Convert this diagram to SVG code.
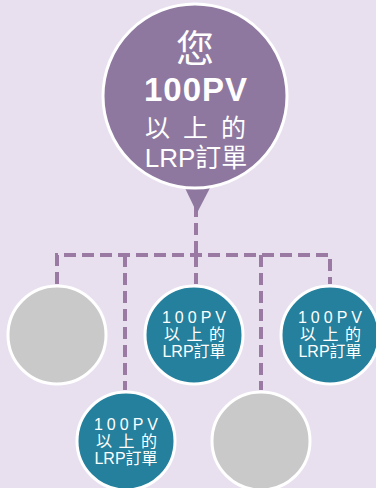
<svg xmlns="http://www.w3.org/2000/svg" width="376" height="488" viewBox="0 0 376 488">
<style>
.bg{fill:#e8e0ef}
.main{fill:#8e789f;stroke:#ffffff;stroke-width:3}
.teal{fill:#24809c;stroke:#ffffff;stroke-width:3}
.gray{fill:#c9c9c9;stroke:#ffffff;stroke-width:3}
.conn{fill:none;stroke:#9a7aa2;stroke-width:4;stroke-dasharray:12 6}
text{fill:#ffffff;font-family:"Liberation Sans","Noto Sans CJK TC",sans-serif;text-anchor:middle}
.big1{font-size:38px}
.big2{font-size:33px;font-weight:bold;letter-spacing:1px}
.big3{font-size:25px;letter-spacing:3px}
.big4{font-size:26px}
.s1{font-size:16px;letter-spacing:4px}
.s2{font-size:16px;letter-spacing:1px}
.s3{font-size:16px}
</style>
<rect class="bg" x="0" y="0" width="376" height="488"/>
<g id="connectors">
<path class="conn" d="M196 205 V255"/>
<path class="conn" d="M57 284 V255 H330 V284"/>
<path class="conn" d="M125 255 V390"/>
<path class="conn" d="M196 255 V284"/>
<path class="conn" d="M261 255 V390"/>
</g>
<g id="main">
<path d="M184 186 L197 213 L211 186 Z" fill="#8e789f"/>
<circle class="main" cx="195" cy="96" r="92"/>
<text class="big1" x="195" y="62">您</text>
<text class="big2" x="196" y="101">100PV</text>
<text class="big3" x="197" y="137">以 上 的</text>
<text class="big4" x="196" y="167">LRP訂單</text>
</g>
<g id="n1"><circle class="gray" cx="57" cy="335" r="49"/></g>
<g id="n2"><circle class="teal" cx="194" cy="335" r="49"/>
<text class="s1" x="196" y="323">100PV</text>
<text class="s2" x="195" y="340">以 上 的</text>
<text class="s3" x="194" y="357">LRP訂單</text></g>
<g id="n3"><circle class="teal" cx="330" cy="335" r="49"/>
<text class="s1" x="332" y="323">100PV</text>
<text class="s2" x="331" y="340">以 上 的</text>
<text class="s3" x="330" y="357">LRP訂單</text></g>
<g id="n4"><circle class="teal" cx="126" cy="441" r="49"/>
<text class="s1" x="128" y="430">100PV</text>
<text class="s2" x="127" y="447">以 上 的</text>
<text class="s3" x="126" y="464">LRP訂單</text></g>
<g id="n5"><circle class="gray" cx="261" cy="441" r="49"/></g>
</svg>
